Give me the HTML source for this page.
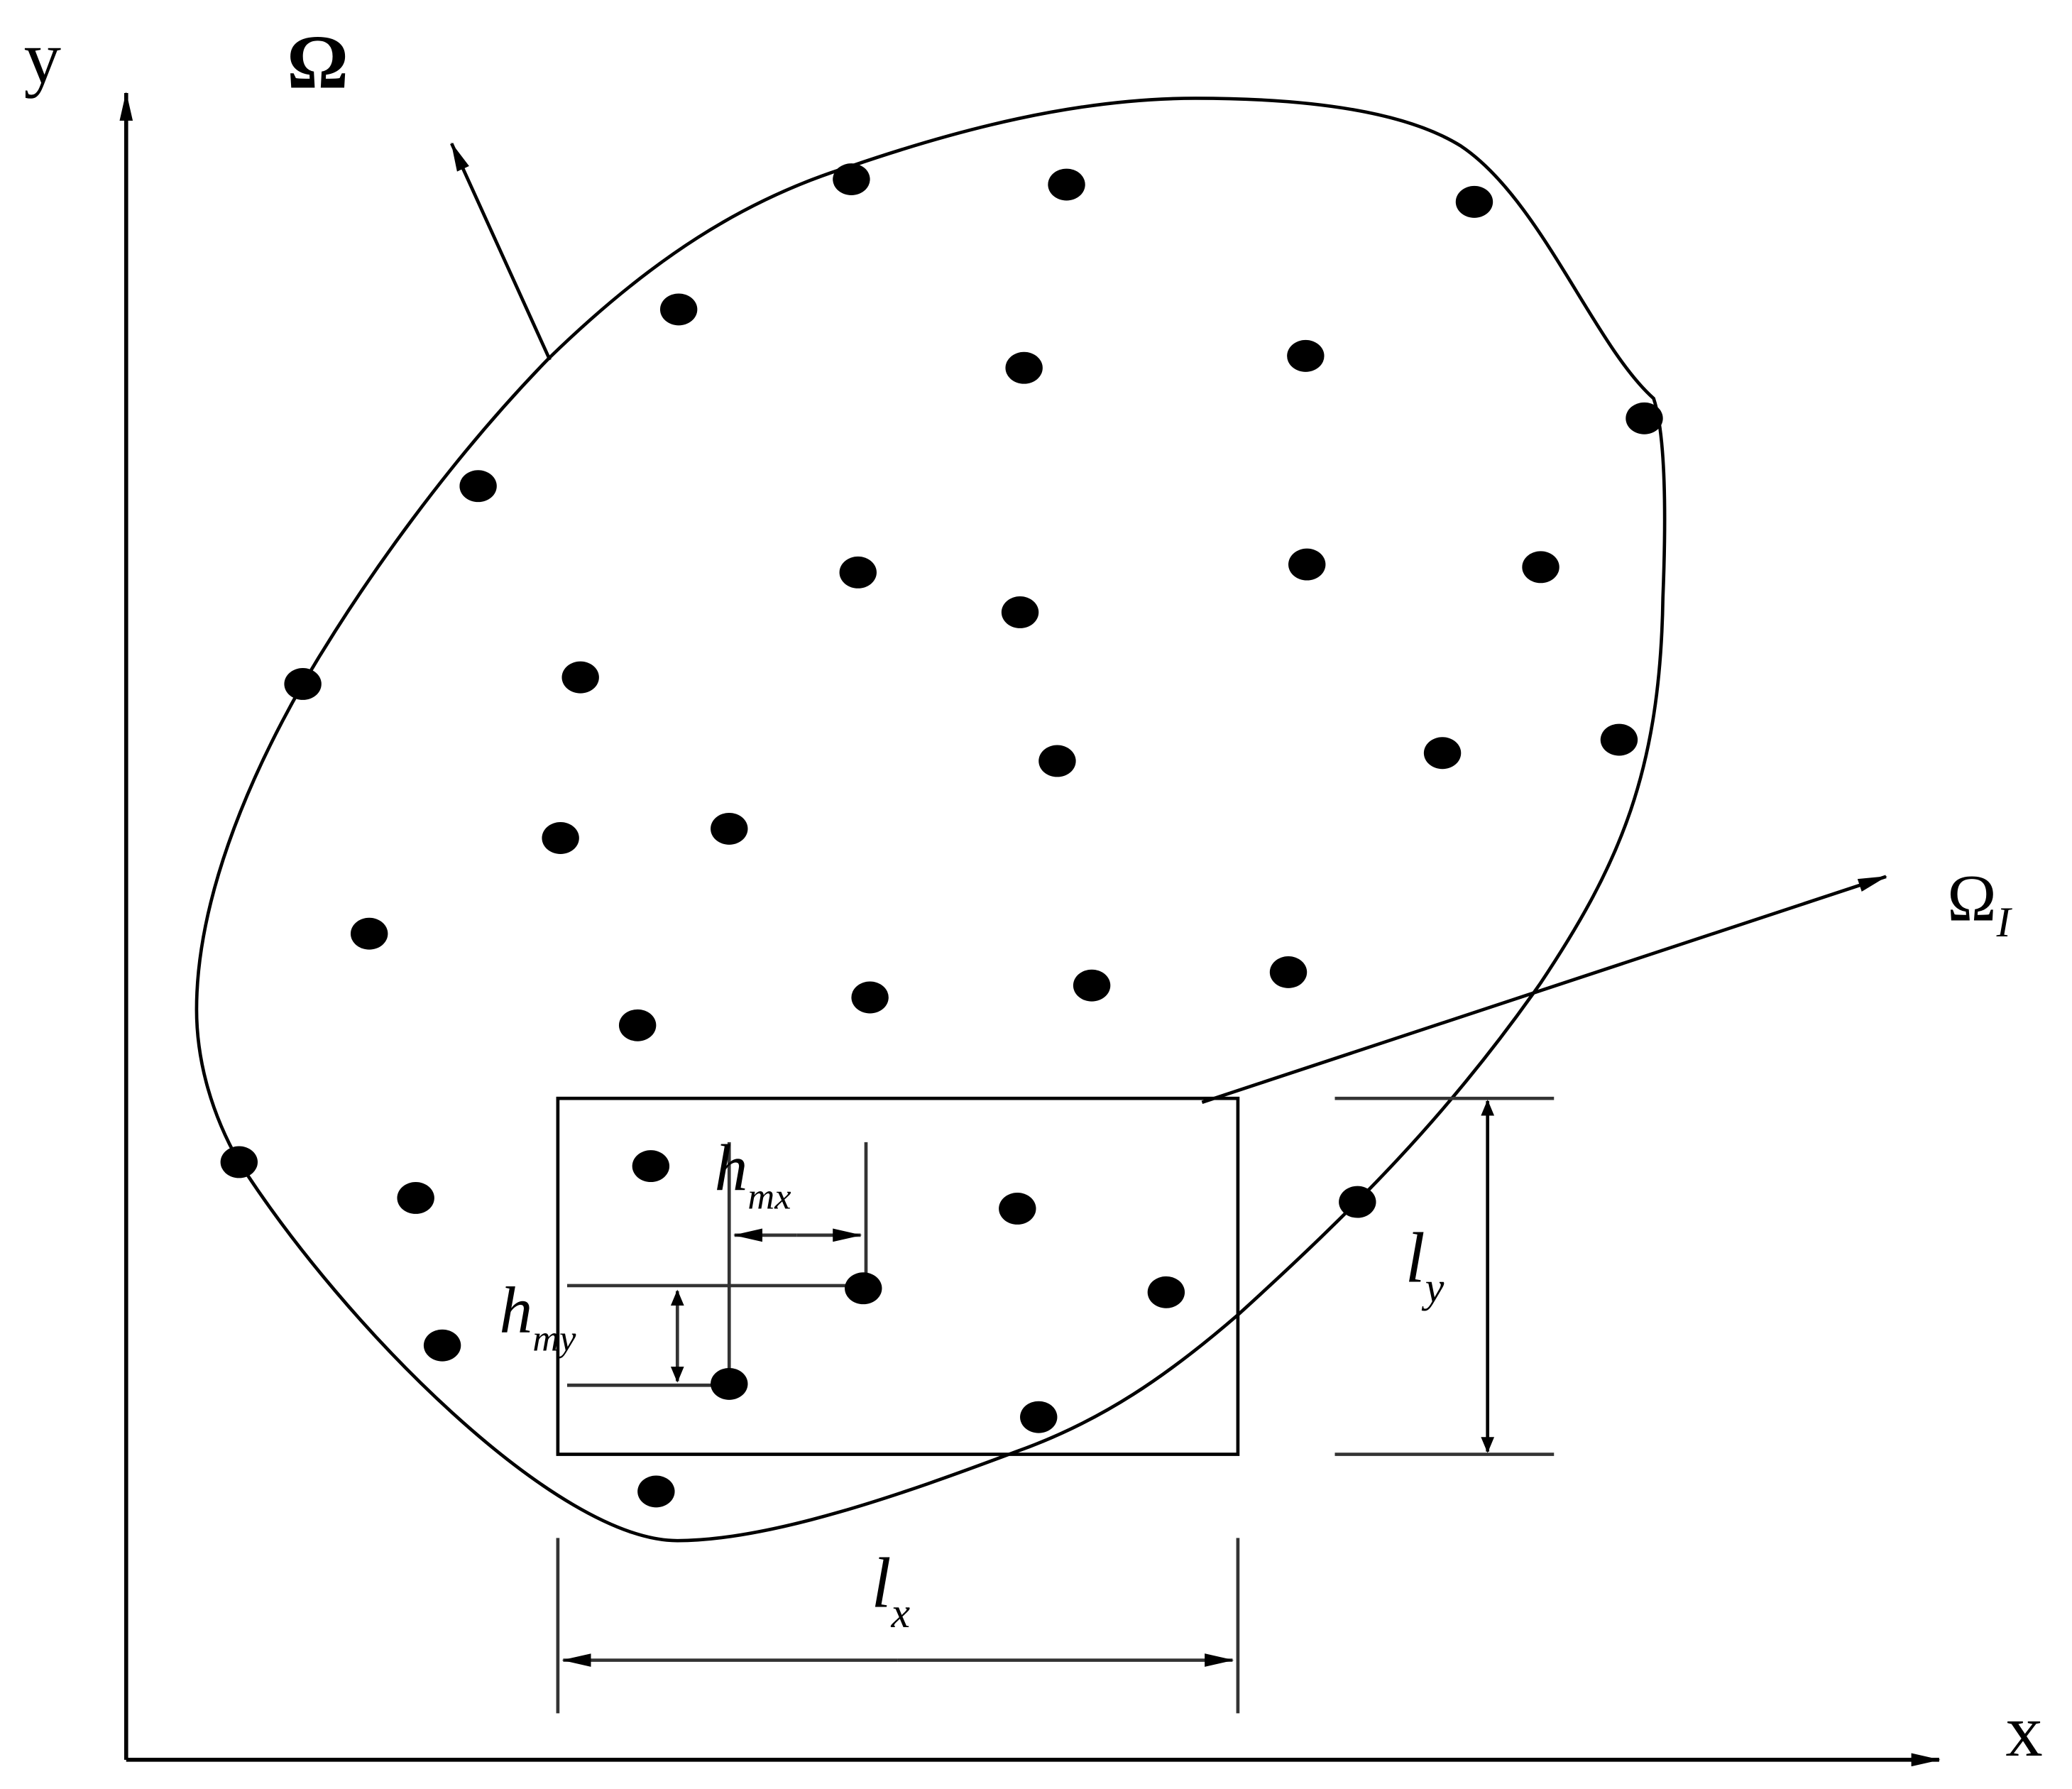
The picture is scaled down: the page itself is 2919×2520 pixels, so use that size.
<!DOCTYPE html>
<html><head><meta charset="utf-8"><style>html,body{margin:0;padding:0;background:#fff}svg{display:block}</style></head>
<body>
<svg width="2919" height="2520" viewBox="0 0 1560 1347" preserveAspectRatio="none" xmlns="http://www.w3.org/2000/svg">
<defs>
<marker id="ah" markerWidth="12" markerHeight="10" refX="11" refY="5" orient="auto" markerUnits="userSpaceOnUse"><path d="M0,0 L12,5 L0,10 z" fill="#000"/></marker>
<marker id="sa" markerWidth="22" markerHeight="10" refX="21" refY="5" orient="auto" markerUnits="userSpaceOnUse"><path d="M0,0 L22,5 L0,10 z" fill="#000"/></marker>
</defs>
<g stroke="#000" stroke-width="3" fill="none">
<line x1="95" y1="1325" x2="95" y2="70" marker-end="url(#sa)"/>
<line x1="95" y1="1325" x2="1460" y2="1325" marker-end="url(#sa)"/>
<line x1="414" y1="271" x2="340" y2="108" stroke-width="2.5" marker-end="url(#sa)"/>
<line x1="905" y1="830" x2="1420" y2="660" stroke-width="2.5" marker-end="url(#sa)"/>
<path stroke-width="2.5" d="M180,875 C160,840 148,800 148,760 C148,680 185,590 228,515 C275,435 340,345 413,270 C490,195 560,150 641,125 C720,98 810,74 900,74 C990,74 1060,85 1100,110 C1160,150 1200,260 1245,300 C1255,330 1254,400 1252,450 C1250,580 1220,650 1160,740 C1090,840 1020,910 932,990 C880,1035 830,1070 765,1093 C680,1125 580,1160 510,1160 C420,1160 260,1000 180,875 Z"/>
<rect x="420" y="827" width="512" height="268" stroke-width="2.5"/>
</g>
<g stroke="#333" stroke-width="2.5" fill="none">
<line x1="1005" y1="827" x2="1170" y2="827"/>
<line x1="1005" y1="1095" x2="1170" y2="1095"/>
<line x1="1120" y1="960" x2="1120" y2="829" stroke="#000" marker-end="url(#ah)"/>
<line x1="1120" y1="960" x2="1120" y2="1093" stroke="#000" marker-end="url(#ah)"/>
<line x1="420" y1="1158" x2="420" y2="1290"/>
<line x1="932" y1="1158" x2="932" y2="1290"/>
<line x1="676" y1="1250" x2="424" y2="1250" marker-end="url(#sa)"/>
<line x1="676" y1="1250" x2="928" y2="1250" marker-end="url(#sa)"/>
<line x1="549" y1="860" x2="549" y2="1042"/>
<line x1="652" y1="860" x2="652" y2="970"/>
<line x1="600" y1="930" x2="553" y2="930" marker-end="url(#sa)"/>
<line x1="600" y1="930" x2="648" y2="930" marker-end="url(#sa)"/>
<line x1="427" y1="968" x2="650" y2="968"/>
<line x1="427" y1="1043" x2="549" y2="1043"/>
<line x1="510" y1="1006" x2="510" y2="972" marker-end="url(#ah)"/>
<line x1="510" y1="1006" x2="510" y2="1040" marker-end="url(#ah)"/>
</g>
<g fill="#000">
<ellipse cx="641" cy="135" rx="14" ry="12"/><ellipse cx="803" cy="139" rx="14" ry="12"/><ellipse cx="1110" cy="152" rx="14" ry="12"/>
<ellipse cx="511" cy="233" rx="14" ry="12"/><ellipse cx="771" cy="277" rx="14" ry="12"/><ellipse cx="983" cy="268" rx="14" ry="12"/>
<ellipse cx="1238" cy="315" rx="14" ry="12"/><ellipse cx="360" cy="366" rx="14" ry="12"/><ellipse cx="646" cy="431" rx="14" ry="12"/>
<ellipse cx="768" cy="461" rx="14" ry="12"/><ellipse cx="984" cy="425" rx="14" ry="12"/><ellipse cx="1160" cy="427" rx="14" ry="12"/>
<ellipse cx="228" cy="515" rx="14" ry="12"/><ellipse cx="437" cy="510" rx="14" ry="12"/><ellipse cx="796" cy="573" rx="14" ry="12"/>
<ellipse cx="1086" cy="567" rx="14" ry="12"/><ellipse cx="1219" cy="557" rx="14" ry="12"/><ellipse cx="422" cy="631" rx="14" ry="12"/>
<ellipse cx="549" cy="624" rx="14" ry="12"/><ellipse cx="278" cy="703" rx="14" ry="12"/><ellipse cx="480" cy="772" rx="14" ry="12"/>
<ellipse cx="655" cy="751" rx="14" ry="12"/><ellipse cx="822" cy="742" rx="14" ry="12"/><ellipse cx="970" cy="732" rx="14" ry="12"/>
<ellipse cx="180" cy="875" rx="14" ry="12"/><ellipse cx="313" cy="902" rx="14" ry="12"/><ellipse cx="490" cy="878" rx="14" ry="12"/>
<ellipse cx="766" cy="910" rx="14" ry="12"/><ellipse cx="1022" cy="905" rx="14" ry="12"/><ellipse cx="650" cy="970" rx="14" ry="12"/>
<ellipse cx="878" cy="973" rx="14" ry="12"/><ellipse cx="333" cy="1013" rx="14" ry="12"/><ellipse cx="549" cy="1042" rx="14" ry="12"/>
<ellipse cx="782" cy="1067" rx="14" ry="12"/><ellipse cx="494" cy="1123" rx="14" ry="12"/>
</g>
<g font-family="Liberation Serif, serif" fill="#000">
<text x="18" y="62" font-size="56">y</text>
<text x="216" y="66" font-size="58" font-weight="bold">Ω</text>
<text x="1510" y="1322" font-size="56">x</text>
<text x="1466" y="693" font-size="50">Ω<tspan font-size="32" font-style="italic" dy="12">I</tspan></text>
<text x="1058" y="965" font-size="54" font-style="italic">l<tspan font-size="32" dy="15">y</tspan></text>
<text x="656" y="1210" font-size="54" font-style="italic">l<tspan font-size="32" dy="15">x</tspan></text>
<text x="538" y="896" font-size="50" font-style="italic">h<tspan font-size="28" dy="14">mx</tspan></text>
<text x="376" y="1003" font-size="50" font-style="italic">h<tspan font-size="28" dy="14">my</tspan></text>
</g>
</svg>
</body></html>
